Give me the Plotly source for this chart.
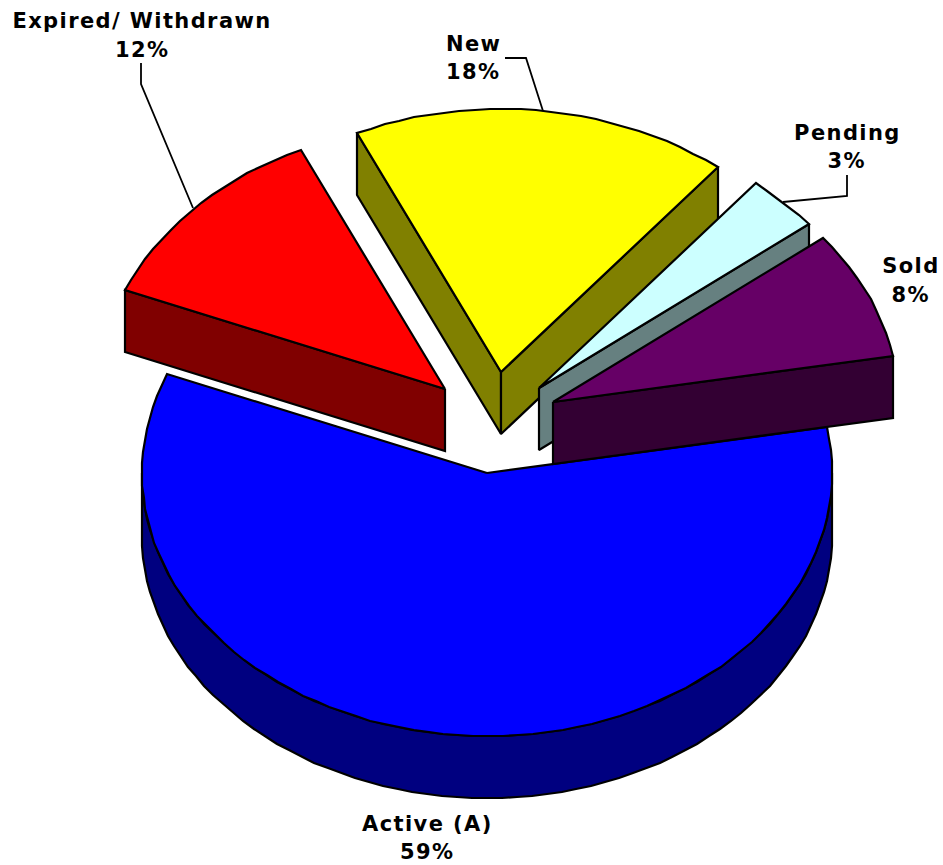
import math
import plotly.graph_objects as go

# ---- data ----
categories = ["Active (A)", "Expired/ Withdrawn", "New", "Pending", "Sold"]
shares = [58.9, 12.0, 17.7, 3.45, 7.95]

# ---- styling and layout (not data) ----
top_colors = ["#0000FF", "#FF0000", "#FFFF00", "#CCFFFF", "#660066"]
side_colors = ["#000080", "#800000", "#808000", "#668080", "#330033"]
W, H = 943, 865
RX, RY, DEPTH = 345, 263, 62
START_ANGLE = 80  # clockwise from 12 o'clock
STEP = 2.5
apexes = [(487, 473), (445, 389), (501, 372), (539, 388), (553, 402)]
label_lines_y = [(824, 852), (21, 50), (44, 72), (133, 161), (266, 295)]
label_x = [427, 142, 473, 847, 911]
leaders = [
    None,
    ((141, 63), (141, 84), (193, 208)),
    ((505, 58), (526, 58), (543, 111)),
    ((847, 175), (847, 196), (783, 202)),
    None,
]
FONT = dict(family="DejaVu Sans", size=21, color="#000000")
LW = 2.2


def rim(cx, cy, a0, a1, dz=0):
    n = max(2, int(round((a1 - a0) / STEP)))
    pts = []
    for i in range(n + 1):
        a = math.radians(a0 + (a1 - a0) * i / n)
        pts.append((round(cx + RX * math.sin(a)), round(cy - RY * math.cos(a)) + dz))
    return pts


def add_poly(fig, pts, color):
    xs = [p[0] for p in pts] + [pts[0][0]]
    ys = [p[1] for p in pts] + [pts[0][1]]
    fig.add_trace(go.Scatter(x=xs, y=ys, mode="lines", fill="toself", fillcolor=color,
                             line=dict(color="#000000", width=LW), hoverinfo="skip",
                             showlegend=False))


fig = go.Figure()
angle = START_ANGLE
total = sum(shares)
for i, share in enumerate(shares):
    a0 = angle
    a1 = angle + 360 * share / total
    angle = a1
    cx, cy = apexes[i]
    s0, s1 = math.sin(math.radians(a0)), math.sin(math.radians(a1))
    p0 = rim(cx, cy, a0, a0)[0]
    p1 = rim(cx, cy, a1, a1)[0]
    # radial side faces that look towards the viewer
    if s0 < 0:
        add_poly(fig, [(cx, cy), p0, (p0[0], p0[1] + DEPTH), (cx, cy + DEPTH)], side_colors[i])
    if s1 > 0:
        add_poly(fig, [(cx, cy), p1, (p1[0], p1[1] + DEPTH), (cx, cy + DEPTH)], side_colors[i])
    # outer rim wall, front half only
    lo, hi = max(a0, 90), min(a1, 270)
    if lo < hi:
        top = rim(cx, cy, lo, hi)
        bottom = rim(cx, cy, lo, hi, DEPTH)
        add_poly(fig, top + bottom[::-1], side_colors[i])
    # top face
    add_poly(fig, [(cx, cy)] + rim(cx, cy, a0, a1), top_colors[i])

    if leaders[i]:
        fig.add_trace(go.Scatter(x=[p[0] for p in leaders[i]], y=[p[1] for p in leaders[i]],
                                 mode="lines", line=dict(color="#000000", width=1.8),
                                 hoverinfo="skip", showlegend=False))
    for text, y in zip((categories[i], f"{round(share)}%"), label_lines_y[i]):
        fig.add_annotation(x=label_x[i], y=y, text=f"<b>{text}</b>", showarrow=False,
                           font=FONT, xanchor="center", yanchor="middle")

fig.update_layout(
    width=W, height=H, margin=dict(l=0, r=0, t=0, b=0),
    paper_bgcolor="#FFFFFF", plot_bgcolor="#FFFFFF", showlegend=False,
    xaxis=dict(range=[0, W], visible=False, fixedrange=True),
    yaxis=dict(range=[H, 0], visible=False, fixedrange=True),
)
fig.write_html("out.html", config=dict(displayModeBar=False),
               post_script="document.body.style.margin='0';"
                           "document.querySelectorAll('.annotation-text').forEach("
                           "function(t){t.style.letterSpacing='1.4px';});")
